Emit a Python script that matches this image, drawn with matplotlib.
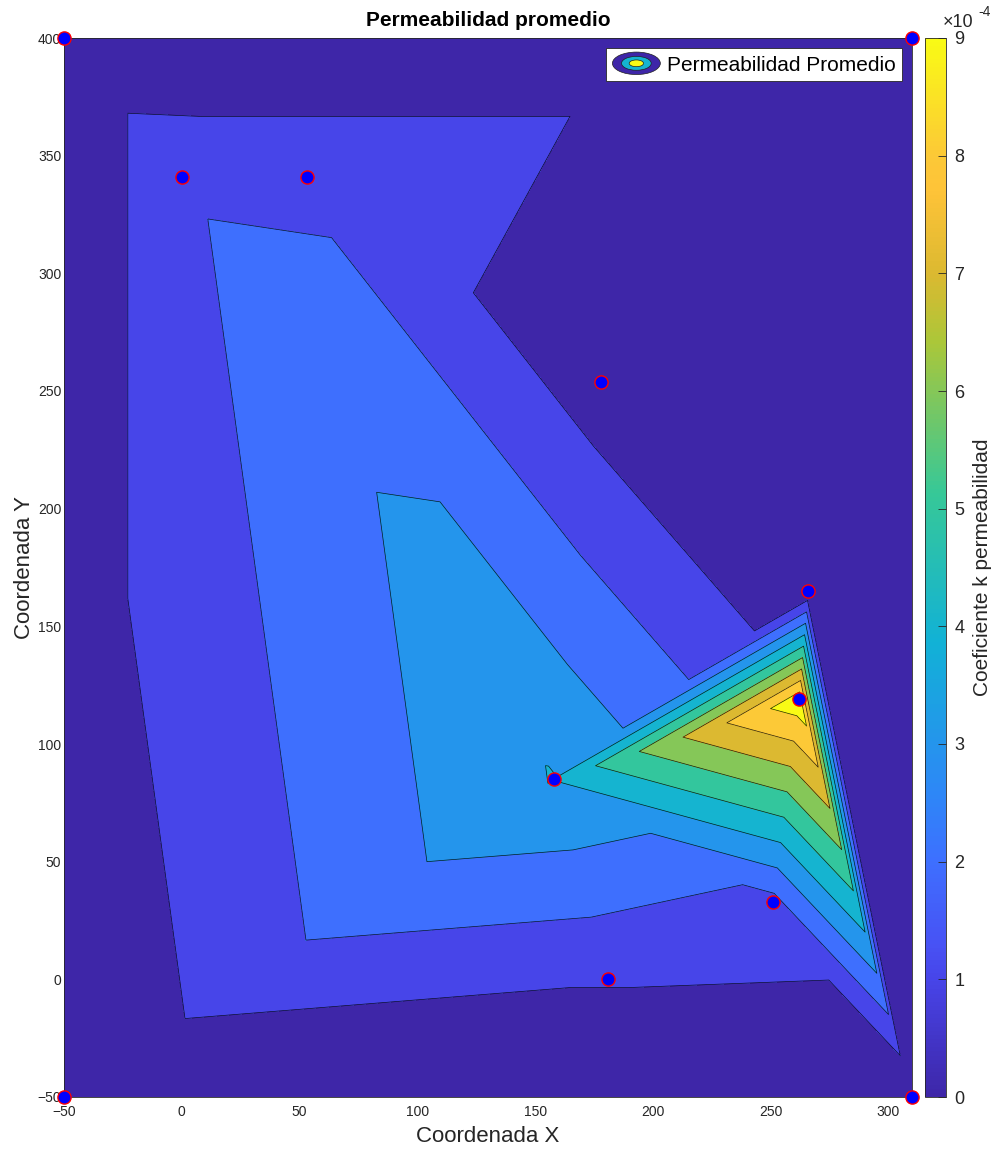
import numpy as np
import matplotlib
matplotlib.use('Agg')
import matplotlib.pyplot as plt
import matplotlib.tri as mtri
from matplotlib.colors import LinearSegmentedColormap, Normalize
from matplotlib.cm import ScalarMappable
from matplotlib.legend_handler import HandlerBase
from matplotlib.patches import Ellipse, Patch

plt.rcParams['font.family'] = ['Liberation Sans', 'DejaVu Sans']

# ---------------- data ----------------
# measurement points (corners + wells)
x_pts = [-50, -50, 310, 310, 0, 53, 178, 266, 262, 158, 251, 181]
y_pts = [-50, 400, 400, -50, 341, 341, 254, 165, 119, 85, 33, 0]
k_vals = [0.0, 0.0, 0.0, 0.0, 1.846e-4, 1.77e-4, 0.41e-4, 0.18e-4,
          9.65e-4, 4.05e-4, 1.67e-4, 1.075e-4]
# linear triangulation (griddata) connectivity
triangles = [(1, 0, 4), (0, 4, 9), (4, 5, 9), (1, 4, 5), (1, 2, 5), (5, 2, 6),
             (5, 6, 9), (6, 9, 7), (6, 2, 7), (7, 2, 3), (7, 8, 3), (9, 8, 7),
             (9, 10, 8), (10, 8, 3), (9, 11, 10), (11, 10, 3), (0, 9, 11), (0, 11, 3)]
levels = [0, 1e-4, 2e-4, 3e-4, 4e-4, 5e-4, 6e-4, 7e-4, 8e-4, 9e-4]
cbar_ticks = [0, 1e-4, 2e-4, 3e-4, 4e-4, 5e-4, 6e-4, 7e-4, 8e-4, 9e-4]
cbar_ticklabels = ['0', '1', '2', '3', '4', '5', '6', '7', '8', '9']
x_ticks = [-50, 0, 50, 100, 150, 200, 250, 300]
y_ticks = [-50, 0, 50, 100, 150, 200, 250, 300, 350, 400]

# parula-like colormap
parula_pos = [0.0, 1/9, 1/7, 2/9, 2/7, 3/7, 4/7, 5/7, 7/9, 6/7, 8/9, 1.0]
parula_rgb = [(0.2422, 0.1504, 0.6603), (0.2798, 0.2708, 0.9150),
              (0.2810, 0.3228, 0.9578), (0.2424, 0.4378, 0.9991),
              (0.1786, 0.5289, 0.9682), (0.0689, 0.6948, 0.8394),
              (0.2161, 0.7843, 0.5923), (0.6720, 0.7793, 0.2227),
              (0.8600, 0.7250, 0.1900), (0.9970, 0.7659, 0.2199),
              (0.9880, 0.7840, 0.2160), (0.9769, 0.9839, 0.0805)]
parula = LinearSegmentedColormap.from_list('parula', list(zip(parula_pos, parula_rgb)), N=256)

vmin, vmax = 0.0, 9e-4
norm = Normalize(vmin=vmin, vmax=vmax)
band_colors = [parula(norm(l)) for l in levels]

# ---------------- figure ----------------
W, H = 1001, 1151
fig = plt.figure(figsize=(W / 100, H / 100), dpi=100)
ax_l, ax_r, ax_t, ax_b = 64, 912, 38, 1097
ax = fig.add_axes([ax_l / W, 1 - ax_b / H, (ax_r - ax_l) / W, (ax_b - ax_t) / H])

tri = mtri.Triangulation(x_pts, y_pts, triangles)
fill_levels = [levels[0] - 1e-9] + levels[1:] + [max(k_vals) + 1e-6]
ax.tricontourf(tri, k_vals, levels=fill_levels, colors=band_colors)
ax.tricontour(tri, k_vals, levels=levels[1:], colors='k', linewidths=0.5, alpha=0.85)

ax.plot(x_pts, y_pts, 'o', markersize=9.5, markerfacecolor='#0000ff',
        markeredgecolor='#ff0000', markeredgewidth=1.0, linestyle='none',
        clip_on=False, zorder=10)

ax.set_xlim(-50, 310)
ax.set_ylim(-50, 400)
ax.set_xticks(x_ticks)
ax.set_yticks(y_ticks)
ax.tick_params(axis='both', length=0, labelsize=10, colors='#262626')
ax.tick_params(axis='x', pad=6)
ax.tick_params(axis='y', pad=2)
for s in ax.spines.values():
    s.set_linewidth(0.6)
    s.set_color('#262626')

fig.text((ax_l + ax_r) / 2 / W, 1 - 20 / H, 'Permeabilidad promedio',
         ha='center', va='center', fontsize=15, fontweight='bold', color='black')
fig.text((ax_l + ax_r) / 2 / W, 1 - 1136 / H, 'Coordenada X',
         ha='center', va='center', fontsize=16, color='#262626')
fig.text(25 / W, 1 - (ax_t + ax_b) / 2 / H, 'Coordenada Y', rotation=90,
         ha='center', va='center', fontsize=16, color='#262626')

# legend with contour icon
class HandlerContourIcon(HandlerBase):
    def create_artists(self, legend, orig_handle, xdescent, ydescent,
                       width, height, fontsize, trans):
        cx = width / 2 - xdescent
        cy = height / 2 - ydescent
        arts = []
        for sc, col in [(1.0, band_colors[0]), (0.62, band_colors[4]), (0.30, band_colors[9])]:
            e = Ellipse((cx, cy), width * sc, height * 1.3 * sc, facecolor=col,
                        edgecolor='#202020', linewidth=0.5, transform=trans)
            arts.append(e)
        return arts

proxy = Patch(facecolor='none')
leg = ax.legend([proxy], ['Permeabilidad Promedio'], loc='upper right',
                handler_map={proxy: HandlerContourIcon()}, fontsize=15,
                fancybox=False, framealpha=1, edgecolor='#262626',
                borderaxespad=0.5, handlelength=2.3, handleheight=0.9,
                handletextpad=0.3, borderpad=0.3)
leg.get_frame().set_linewidth(0.6)

# colorbar
cb_l, cb_r = 925, 946
cax = fig.add_axes([cb_l / W, 1 - ax_b / H, (cb_r - cb_l) / W, (ax_b - ax_t) / H])
sm = ScalarMappable(norm=norm, cmap=parula)
cb = fig.colorbar(sm, cax=cax)
cb.set_ticks(cbar_ticks)
cb.set_ticklabels(cbar_ticklabels)
cb.ax.tick_params(direction='in', length=6, width=0.6, labelsize=13,
                  colors='#262626', pad=6)
cb.outline.set_linewidth(0.6)
cb.outline.set_edgecolor('#262626')
fig.text(983 / W, 1 - (ax_t + ax_b) / 2 / H, 'Coeficiente k permeabilidad',
         rotation=90, ha='center', va='center', fontsize=15, color='#262626')
fig.text(943 / W, 1 - 27 / H, '\u00d710', ha='left', va='baseline',
         fontsize=13, color='#262626')
fig.text(978 / W, 1 - 16 / H, '-4', ha='left', va='baseline',
         fontsize=10, color='#262626')

fig.savefig('out.png', dpi=100)
